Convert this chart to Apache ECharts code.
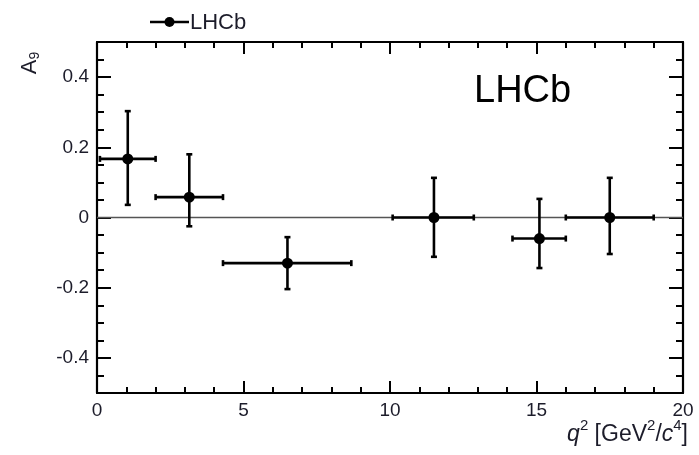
<!DOCTYPE html>
<html>
<head>
<meta charset="utf-8">
<script src="https://cdn.jsdelivr.net/npm/echarts@6/dist/echarts.min.js"></script>
<style>html,body{margin:0;padding:0;background:#fff;}#c{width:699px;height:455px;}</style>
</head>
<body>
<div id="c"></div>
<script>
// q^2 bins (GeV^2/c^4)
const binLo = [0.1, 2.0, 4.3, 10.09, 14.18, 16.0];
const binHi = [2.0, 4.3, 8.68, 12.86, 16.0, 19.0];
const xCenter = [1.05, 3.15, 6.5, 11.5, 15.1, 17.5];
// A9 values and error bar ends
const yVal = [0.167, 0.058, -0.13, 0.0, -0.06, 0.0];
const yHi = [0.303, 0.18, -0.056, 0.113, 0.053, 0.113];
const yLo = [0.036, -0.025, -0.204, -0.112, -0.144, -0.104];
// reference line at A9 = 0 : [xFrom, xTo, y]
const zeroLine = [[0, 20, 0]];
const yMajorTicks = [-0.4, -0.2, 0, 0.2, 0.4];

const pts = xCenter.map((x, i) => [binLo[i], x, binHi[i], yLo[i], yVal[i], yHi[i]]);

const chart = echarts.init(document.getElementById('c'));
const FONT = '"Liberation Sans", Arial, sans-serif';
const TXT = '#1c1c2a';
const lineW = 2.6;

function renderItem(params, api) {
  const lo = api.coord([api.value(0), api.value(4)]);
  const c = api.coord([api.value(1), api.value(4)]);
  const hi = api.coord([api.value(2), api.value(4)]);
  const yl = api.coord([api.value(1), api.value(3)]);
  const yh = api.coord([api.value(1), api.value(5)]);
  const st = {stroke: '#000', lineWidth: lineW};
  const cap = 3;
  return {
    type: 'group',
    children: [
      {type: 'line', shape: {x1: lo[0], y1: c[1], x2: hi[0], y2: c[1]}, style: st},
      {type: 'line', shape: {x1: c[0], y1: yl[1], x2: c[0], y2: yh[1]}, style: st},
      {type: 'line', shape: {x1: lo[0], y1: c[1] - cap, x2: lo[0], y2: c[1] + cap}, style: st},
      {type: 'line', shape: {x1: hi[0], y1: c[1] - cap, x2: hi[0], y2: c[1] + cap}, style: st},
      {type: 'line', shape: {x1: c[0] - cap, y1: yl[1], x2: c[0] + cap, y2: yl[1]}, style: st},
      {type: 'line', shape: {x1: c[0] - cap, y1: yh[1], x2: c[0] + cap, y2: yh[1]}, style: st},
      {type: 'circle', shape: {cx: c[0], cy: c[1], r: 5.5}, style: {fill: '#000'}}
    ]
  };
}
function renderZero(params, api) {
  const a = api.coord([api.value(0), api.value(2)]);
  const b = api.coord([api.value(1), api.value(2)]);
  return {type: 'line', shape: {x1: a[0], y1: a[1], x2: b[0], y2: b[1]}, style: {stroke: '#555', lineWidth: 1.5}};
}

// x axes are pinned (onZero) to hidden helper y axes whose zero lies on the frame edge
function xAxisOpt(pos, showLabels, zeroIdx) {
  return {
    type: 'value', min: 0, max: 20, interval: 5, position: pos,
    axisLine: {show: true, onZero: true, onZeroAxisIndex: zeroIdx, lineStyle: {color: '#000', width: 2.2}},
    axisTick: {show: true, inside: true, length: 12, lineStyle: {color: '#000', width: 2}},
    minorTick: {show: true, splitNumber: 5, length: 6, lineStyle: {color: '#000', width: 2}},
    axisLabel: {show: showLabels, color: TXT, fontSize: 19},
    splitLine: {show: false}
  };
}
function yAxisOpt(pos, showLabels) {
  return {
    type: 'value', min: -0.5, max: 0.5, interval: 0.1, position: pos,
    axisLine: {show: true, onZero: false, lineStyle: {color: '#000', width: 2.2}},
    axisTick: {show: true, inside: true, length: 7, lineStyle: {color: '#000', width: 2}},
    minorTick: {show: true, splitNumber: 2, length: 7, lineStyle: {color: '#000', width: 2}},
    axisLabel: {show: showLabels, color: TXT, fontSize: 19,
      formatter: v => {
        const k = Math.round(v * 10);
        if (k % 2 !== 0 || Math.abs(k) === 5) return '';
        return k === 0 ? '0' : (k / 10).toFixed(1);
      }},
    splitLine: {show: false}
  };
}
function yMajorOpt(pos) {
  return {
    type: 'value', min: -0.5, max: 0.5, interval: 0.1, position: pos,
    axisLine: {show: false, onZero: false},
    axisTick: {show: true, inside: true, length: 14, customValues: yMajorTicks, lineStyle: {color: '#000', width: 2}},
    axisLabel: {show: false},
    splitLine: {show: false}
  };
}

chart.setOption({
  animation: false,
  grid: {left: 97, right: 16, top: 42, bottom: 62},
  xAxis: [xAxisOpt('bottom', true, 2), xAxisOpt('top', false, 3)],
  yAxis: [
    yAxisOpt('left', true),
    yAxisOpt('right', false),
    {type: 'value', min: 0, max: 1, show: false, splitLine: {show: false}},
    {type: 'value', min: -1, max: 0, show: false, splitLine: {show: false}},
    yMajorOpt('left'),
    yMajorOpt('right')
  ],
  graphic: [
    {type: 'line', shape: {x1: 150, y1: 22, x2: 189, y2: 22}, style: {stroke: '#000', lineWidth: 2.6}},
    {type: 'circle', shape: {cx: 169.5, cy: 22, r: 5}, style: {fill: '#000'}},
    {type: 'text', x: 190, y: 23, style: {text: 'LHCb', fontSize: 22, fontFamily: FONT, fill: TXT, verticalAlign: 'middle'}},
    {type: 'text', left: 474, top: 73, style: {text: 'LHCb', fontSize: 38, fontFamily: FONT, fill: '#000'}},
    {type: 'text', x: 30, y: 63, rotation: Math.PI / 2, style: {
      text: '{a|A}{s|9}', align: 'center', verticalAlign: 'middle',
      rich: {a: {fontSize: 22, fontFamily: FONT, fill: TXT, lineHeight: 24},
             s: {fontSize: 14, fontFamily: FONT, fill: TXT, verticalAlign: 'bottom', lineHeight: 24, padding: [7, 0, 0, 0]}}
    }},
    {type: 'text', right: 11, top: 418, style: {
      text: '{i|q}{s|2}{t| [GeV}{s|2}{t|/}{i|c}{s|4}{t|]}',
      rich: {
        i: {fontSize: 23, fontFamily: FONT, fontStyle: 'italic', fill: TXT, lineHeight: 28, verticalAlign: 'bottom'},
        t: {fontSize: 23, fontFamily: FONT, fill: TXT, lineHeight: 28, verticalAlign: 'bottom'},
        s: {fontSize: 15, fontFamily: FONT, fill: TXT, lineHeight: 28, verticalAlign: 'top'}
      }
    }}
  ],
  series: [
    {name: 'zero', type: 'custom', renderItem: renderZero, data: zeroLine,
     xAxisIndex: 0, yAxisIndex: 0, encode: {x: [0, 1], y: [2]}, z: 2, silent: true},
    {name: 'LHCb', type: 'custom', renderItem: renderItem, data: pts,
     xAxisIndex: 0, yAxisIndex: 0, encode: {x: [0, 1, 2], y: [3, 4, 5]}, z: 3}
  ]
});
</script>
</body>
</html>
